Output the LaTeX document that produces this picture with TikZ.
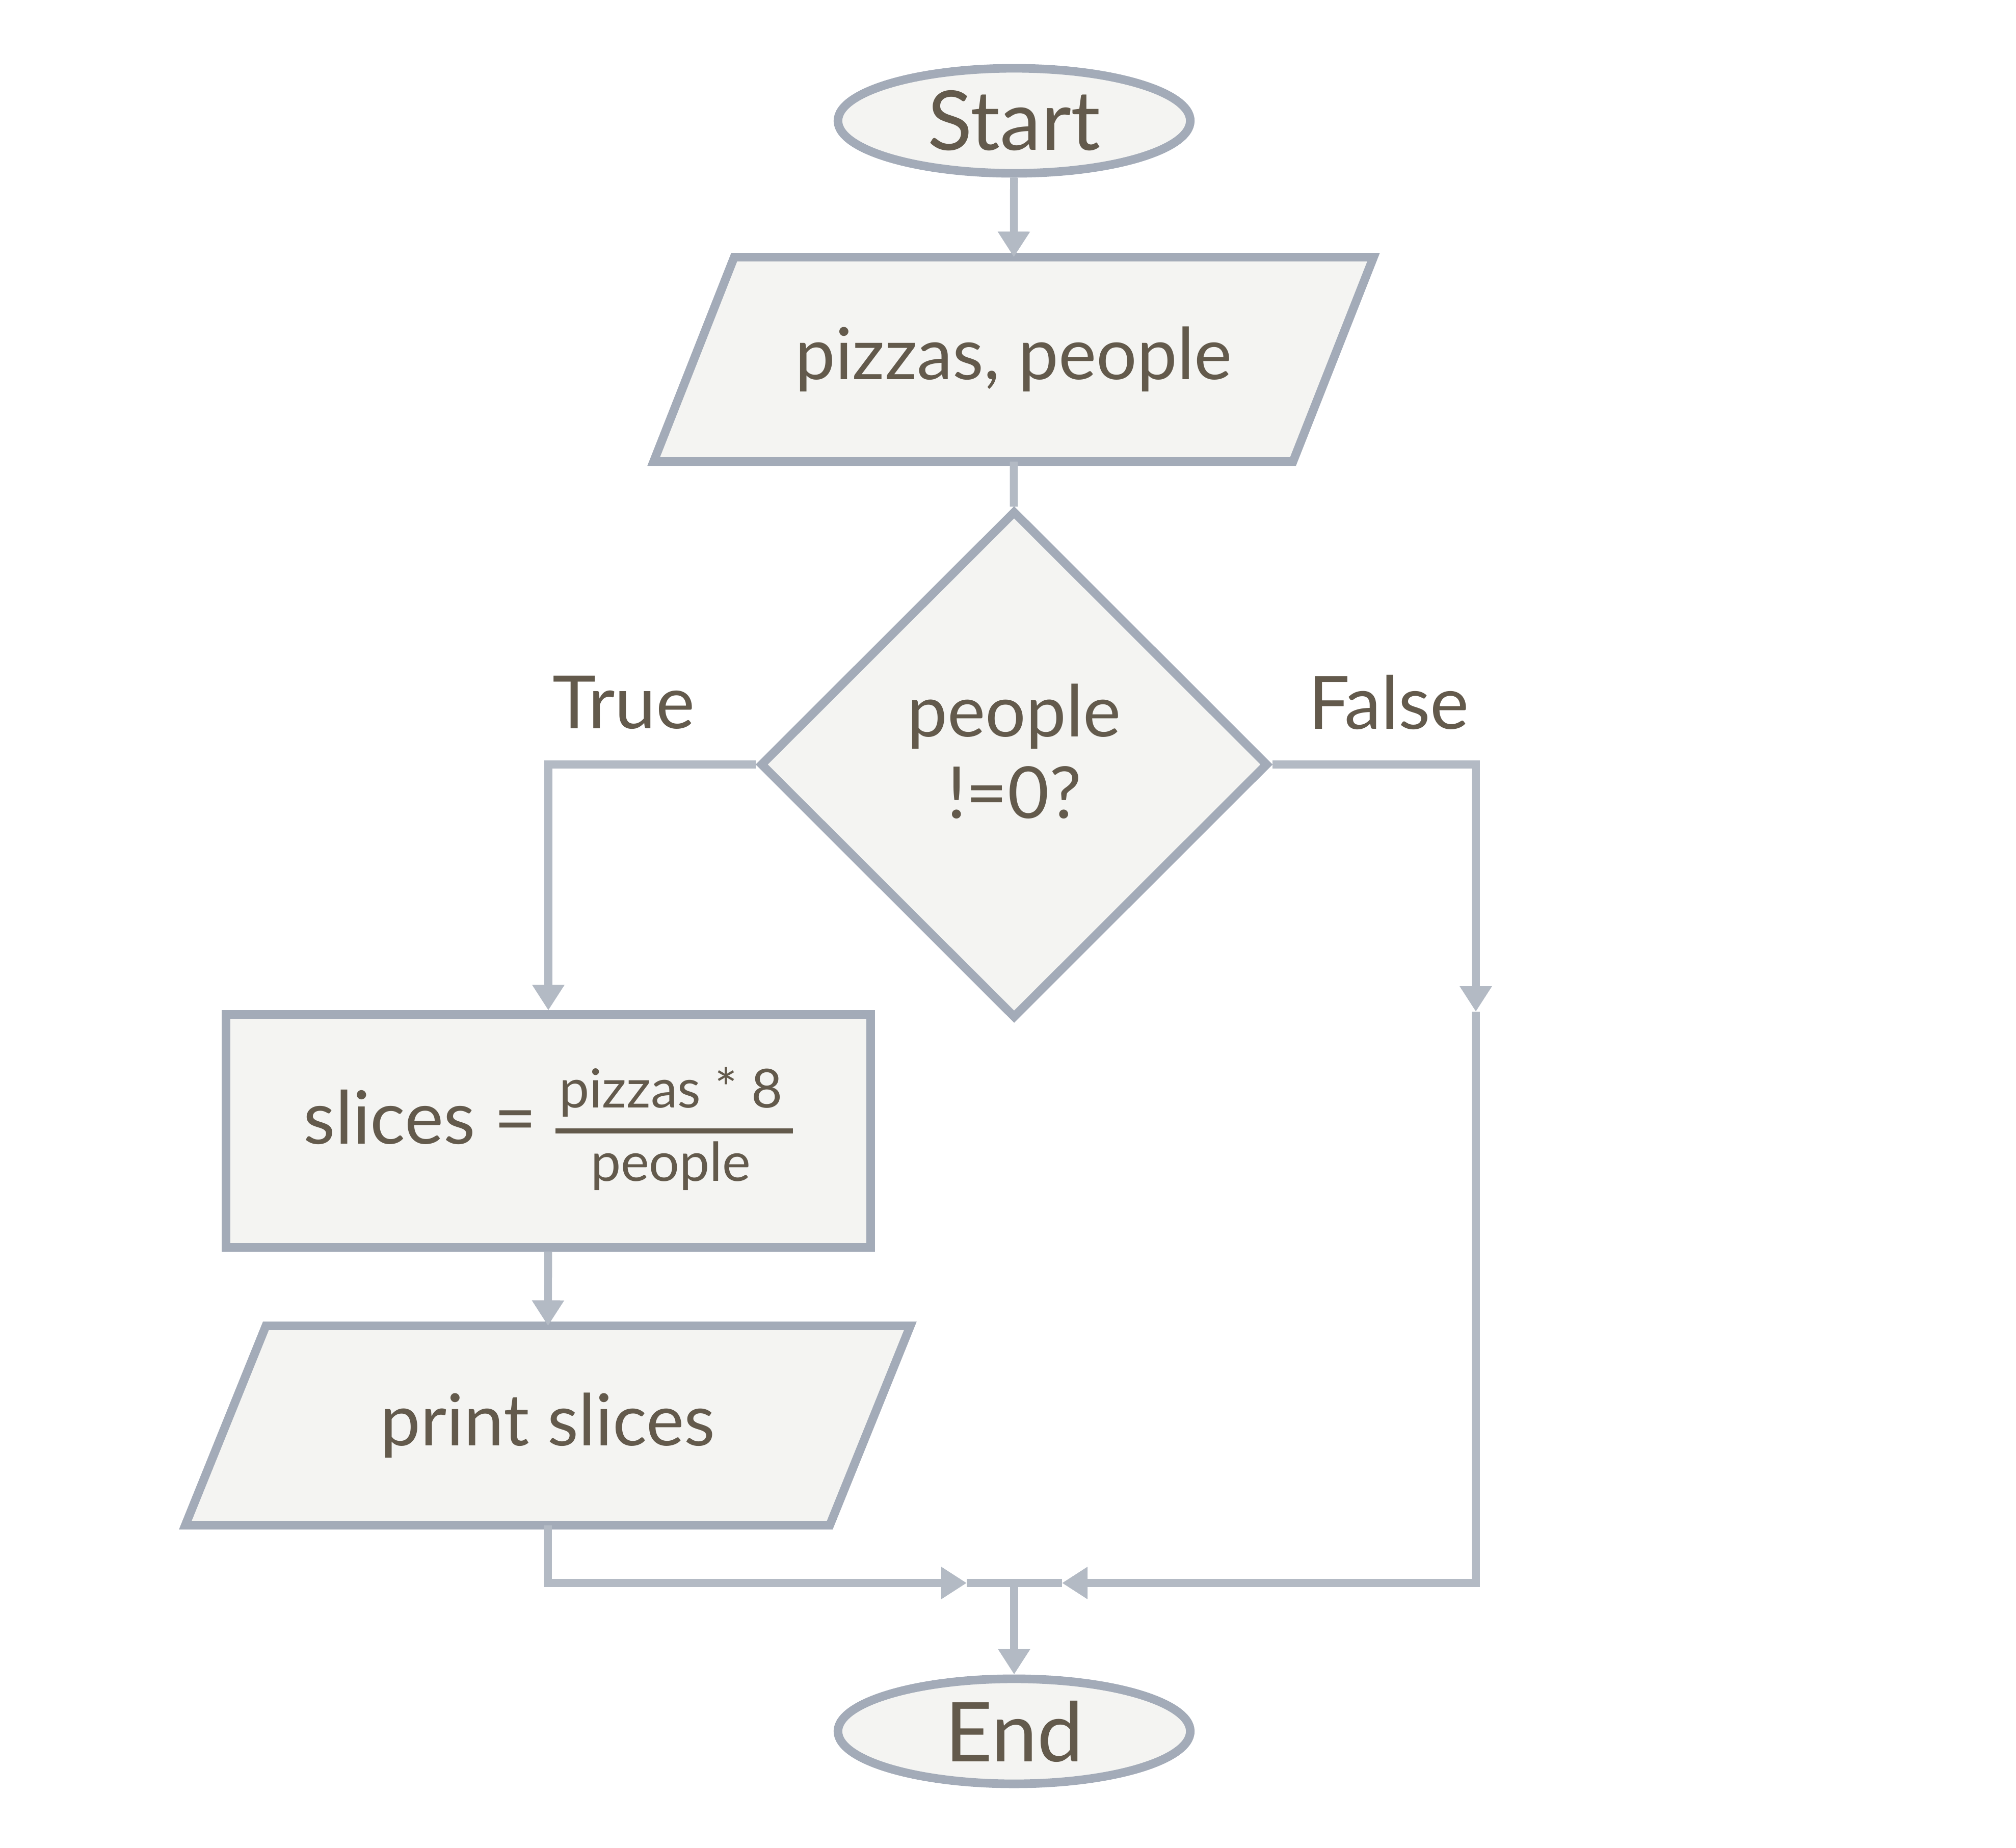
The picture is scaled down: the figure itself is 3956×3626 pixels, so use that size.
\documentclass[tikz,border=0pt]{standalone}
\usepackage{fontspec}
\setmainfont{Lato}
\usetikzlibrary{shapes.geometric,arrows.meta,backgrounds}
\definecolor{bord}{HTML}{A3ABB8}
\definecolor{conn}{HTML}{B3BAC4}
\definecolor{fillc}{HTML}{F4F4F2}
\definecolor{txt}{HTML}{635A4C}
\begin{document}
\begin{tikzpicture}[x=0.01cm,y=-0.01cm,
  shapebox/.style={draw=bord, line width=4.8pt, fill=fillc, text=txt,
    font=\fontsize{40}{45.5}\selectfont, align=center, inner sep=0pt},
  term/.style={shapebox, ellipse, minimum width=6.91cm, minimum height=2.06cm,
    font=\fontsize{46}{50}\selectfont},
  iobox/.style={line width=4.8pt, text=txt, font=\fontsize{40}{45.5}\selectfont,
    align=center, inner sep=0pt, rectangle},
  ioshape/.style={draw=bord, line width=4.8pt, fill=fillc, line join=miter},
  proc/.style={shapebox, rectangle, minimum width=12.64cm, minimum height=4.56cm},
  decision/.style={shapebox, diamond, aspect=1, minimum width=9.97cm, minimum height=9.96cm},
  flow/.style={draw=conn, line width=4.4pt},
  arr/.style={flow, -{Triangle[length=0.5cm,width=0.6cm]}},
  lbl/.style={text=txt, font=\fontsize{41}{45}\selectfont, inner sep=0pt}
]
\useasboundingbox (0,0) rectangle (3956,3626);

\node[term] (start) at (1990,237) {Start};
\node[iobox, minimum width=12.37cm, minimum height=3.84cm] (in) at (1989,705) {pizzas, people};
\node[decision] (dec) at (1990,1500) {};
\node[lbl, align=center, font=\fontsize{40}{45.5}\selectfont] (dq) at (1990,1474) {people\\!=0?};
\node[proc, font=\fontsize{41}{45}\selectfont] (calc) at (1076,2219) {slices = \raisebox{1pt}{\fontsize{30}{38}\selectfont\setlength{\arrayrulewidth}{2.9pt}\begin{tabular}{@{\hspace{2pt}}c@{\hspace{6pt}}}pizzas * 8\\\hline people\end{tabular}}};
\node[iobox, minimum width=12.47cm, minimum height=3.74cm] (out) at (1075,2797) {print slices};
\node[term] (end) at (1990,3397) {End};
\node[lbl] (tl) at (1224,1378) {True};
\node[lbl] (fl) at (2725,1378) {False};

\begin{scope}[on background layer]
  \draw[ioshape] ([xshift=0.79cm]in.north west) -- ([xshift=0.79cm]in.north east)
    -- ([xshift=-0.79cm]in.south east) -- ([xshift=-0.79cm]in.south west) -- cycle;
  \draw[ioshape] ([xshift=0.79cm]out.north west) -- ([xshift=0.79cm]out.north east)
    -- ([xshift=-0.79cm]out.south east) -- ([xshift=-0.79cm]out.south west) -- cycle;
\end{scope}

\coordinate (merge) at (1990,3106);
\coordinate (ml) at (1897,3106);
\coordinate (mr) at (2084,3106);
\coordinate (rm) at (2896,1985);

\draw[arr] (start) -- (in);
\draw[flow] (in) -- (dec);
\draw[arr] (dec.west) -| (calc.north);
\draw[arr] (calc) -- (out);
\draw[arr] (out.south) |- (ml);
\draw[flow] (ml) -- (merge);
\draw[arr] (dec.east) -| (rm);
\draw[arr] (rm) |- (mr);
\draw[flow] (mr) -- (merge);
\draw[arr] (merge) -- (end);
\end{tikzpicture}
\end{document}
